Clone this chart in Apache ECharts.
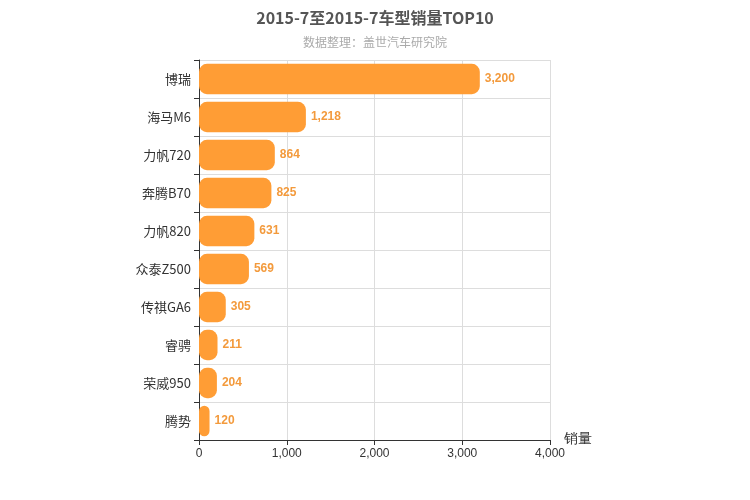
<!DOCTYPE html>
<html><head><meta charset="utf-8">
<script src="https://cdn.jsdelivr.net/npm/echarts@6/dist/echarts.min.js"></script>
<style>body{margin:0}#c{width:750px;height:500px}</style></head>
<body><div id="c"></div>
<script>
const categories=['博瑞','海马M6','力帆720','奔腾B70','力帆820','众泰Z500','传祺GA6','睿骋','荣威950','腾势'];
const sales=[3200,1218,864,825,631,569,305,211,204,120];
const xTicks=[0,1000,2000,3000,4000];
const chart=echarts.init(document.getElementById('c'));
chart.setOption({
  animation:false,
  title:{text:'2015-7至2015-7车型销量TOP10',subtext:'数据整理：盖世汽车研究院',left:'center',top:5,
    textStyle:{fontSize:16,fontWeight:'bold',color:'#555',fontFamily:'Noto Sans CJK SC'},
    subtextStyle:{fontSize:12,color:'#aaa',fontFamily:'Noto Sans CJK SC'},itemGap:10},
  grid:{left:199,right:200,top:60,bottom:60,containLabel:false},
  xAxis:{type:'value',min:xTicks[0],max:xTicks[xTicks.length-1],interval:1000,name:'销量',
    nameLocation:'end',nameGap:14,nameTextStyle:{fontSize:14,color:'#333',verticalAlign:'top',padding:[-8,0,0,0]},
    axisLine:{show:true,lineStyle:{color:'#333'}},axisTick:{show:true,lineStyle:{color:'#333'}},
    axisLabel:{color:'#333',fontSize:12},splitLine:{lineStyle:{color:'#ddd'}}},
  yAxis:{type:'category',data:categories,inverse:true,
    axisLine:{lineStyle:{color:'#333'}},axisTick:{show:true,lineStyle:{color:'#333'}},
    axisLabel:{color:'#333',fontSize:13,fontFamily:'Noto Sans CJK SC'},
    splitLine:{show:true,lineStyle:{color:'#ddd'}}},
  series:[{type:'bar',data:sales,barWidth:'80%',
    itemStyle:{color:'#FF9D35',borderRadius:8},
    label:{show:true,position:'right',color:'#F39A3C',fontWeight:'bold',fontSize:12,
      formatter:p=>p.value.toLocaleString('en-US')}}]
});
</script></body></html>
